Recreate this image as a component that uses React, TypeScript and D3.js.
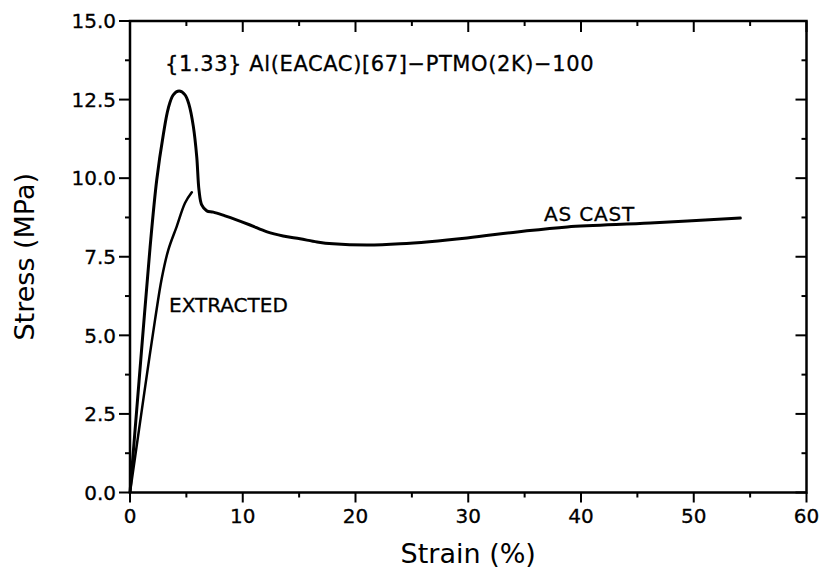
import React from "react";
import * as d3 from "d3";

// AS CAST curve (strain %, stress MPa)
const asCastStrain = [0, 0.6, 1.2, 1.78, 2.37, 2.96, 3.4, 3.84, 4.35, 4.88, 5.24, 5.62, 5.92, 6.12, 6.36, 6.81, 7.39, 8.43, 9.32, 10.65, 12.16, 13.58, 15.08, 16.59, 18.01, 21.03, 23.96, 29.9, 34.34, 38.78, 46.14, 54.13];
const asCastStress = [0, 2.65, 5.3, 7.8, 9.94, 11.4, 12.23, 12.65, 12.77, 12.65, 12.33, 11.64, 10.68, 9.62, 9.15, 8.96, 8.92, 8.8, 8.69, 8.51, 8.29, 8.16, 8.07, 7.97, 7.91, 7.87, 7.91, 8.1, 8.29, 8.45, 8.57, 8.73];

// EXTRACTED curve
const extractedStrain = [0, 0.8, 1.5, 2.22, 2.81, 3.4, 4.14, 4.88, 5.48];
const extractedStress = [0, 2.0, 3.75, 5.49, 6.8, 7.72, 8.46, 9.21, 9.55];

const xTickValues = [0, 10, 20, 30, 40, 50, 60];
const xTickLabels = ["0", "10", "20", "30", "40", "50", "60"];
const xMinorValues = [5, 15, 25, 35, 45, 55];
const yTickValues = [0, 2.5, 5, 7.5, 10, 12.5, 15];
const yTickLabels = ["0.0", "2.5", "5.0", "7.5", "10.0", "12.5", "15.0"];
const yMinorValues = [1.25, 3.75, 6.25, 8.75, 11.25, 13.75];

const titleText = "{1.33} Al(EACAC)[67]\u2212PTMO(2K)\u2212100";
const asCastLabel = "AS CAST";
const extractedLabel = "EXTRACTED";
const xAxisTitle = "Strain (%)";
const yAxisTitle = "Stress (MPa)";

export default function App() {
  const W = 821;
  const H = 575;
  const left = 130, right = 806.5, top = 21, bottom = 492.5;
  const x = d3.scaleLinear().domain([0, 60]).range([left, right]);
  const y = d3.scaleLinear().domain([0, 15]).range([bottom, top]);
  const font = "DejaVu Sans, Verdana, sans-serif";

  const line = d3
    .line<[number, number]>()
    .x((d) => x(d[0]))
    .y((d) => y(d[1]))
    .curve(d3.curveCatmullRom.alpha(0.5));

  const asCast = asCastStrain.map((s, i) => [s, asCastStress[i]] as [number, number]);
  const extracted = extractedStrain.map((s, i) => [s, extractedStress[i]] as [number, number]);

  return (
    <svg width={W} height={H} style={{ position: "absolute", left: 0, top: 0, background: "#fff" }} fontFamily={font}>
      <rect x={0} y={0} width={W} height={H} fill="#fff" />
      {/* frame */}
      <rect x={left} y={top} width={right - left} height={bottom - top} fill="none" stroke="#000" strokeWidth={2.5} />
      {/* left ticks (outward) */}
      {yTickValues.map((v) => (
        <line key={"yl" + v} x1={left - 11} x2={left} y1={y(v)} y2={y(v)} stroke="#000" strokeWidth={2} />
      ))}
      {yMinorValues.map((v) => (
        <line key={"ylm" + v} x1={left - 5} x2={left} y1={y(v)} y2={y(v)} stroke="#000" strokeWidth={2} />
      ))}
      {/* right ticks (inward) */}
      {yTickValues.map((v) => (
        <line key={"yr" + v} x1={right - 11} x2={right} y1={y(v)} y2={y(v)} stroke="#000" strokeWidth={2} />
      ))}
      {yMinorValues.map((v) => (
        <line key={"yrm" + v} x1={right - 5} x2={right} y1={y(v)} y2={y(v)} stroke="#000" strokeWidth={2} />
      ))}
      {/* bottom ticks (outward) */}
      {xTickValues.map((v) => (
        <line key={"xb" + v} x1={x(v)} x2={x(v)} y1={bottom} y2={bottom + 10} stroke="#000" strokeWidth={2} />
      ))}
      {xMinorValues.map((v) => (
        <line key={"xbm" + v} x1={x(v)} x2={x(v)} y1={bottom} y2={bottom + 5} stroke="#000" strokeWidth={2} />
      ))}
      {/* top ticks (inward) */}
      {xTickValues.map((v) => (
        <line key={"xt" + v} x1={x(v)} x2={x(v)} y1={top} y2={top + 11} stroke="#000" strokeWidth={2} />
      ))}
      {xMinorValues.map((v) => (
        <line key={"xtm" + v} x1={x(v)} x2={x(v)} y1={top} y2={top + 5} stroke="#000" strokeWidth={2} />
      ))}
      {/* tick labels */}
      {yTickValues.map((v, i) => (
        <text key={"ytl" + v} x={116} y={y(v)} dy="0.36em" textAnchor="end" fontSize={20} fill="#000" stroke="#000" strokeWidth={0.3}>
          {yTickLabels[i]}
        </text>
      ))}
      {xTickValues.map((v, i) => (
        <text key={"xtl" + v} x={x(v)} y={523} textAnchor="middle" fontSize={20} fill="#000" stroke="#000" strokeWidth={0.3}>
          {xTickLabels[i]}
        </text>
      ))}
      {/* axis titles */}
      <text x={(left + right) / 2} y={563} textAnchor="middle" fontSize={27} fill="#000">
        {xAxisTitle}
      </text>
      <text
        transform={`translate(${34},${(top + bottom) / 2}) rotate(-90)`}
        textAnchor="middle"
        fontSize={27}
        fill="#000"
      >
        {yAxisTitle}
      </text>
      {/* curves */}
      <path d={line(asCast) || ""} fill="none" stroke="#000" strokeWidth={3} strokeLinejoin="round" strokeLinecap="round" />
      <path d={line(extracted) || ""} fill="none" stroke="#000" strokeWidth={2.5} strokeLinejoin="round" strokeLinecap="round" />
      {/* annotations */}
      <text x={165} y={71} fontSize={21} letterSpacing={0.6} fill="#000" stroke="#000" strokeWidth={0.3}>
        {titleText}
      </text>
      <text x={544} y={221} fontSize={20} letterSpacing={0.8} fill="#000" stroke="#000" strokeWidth={0.3}>
        {asCastLabel}
      </text>
      <text x={169} y={312} fontSize={20} fill="#000" stroke="#000" strokeWidth={0.3}>
        {extractedLabel}
      </text>
    </svg>
  );
}
